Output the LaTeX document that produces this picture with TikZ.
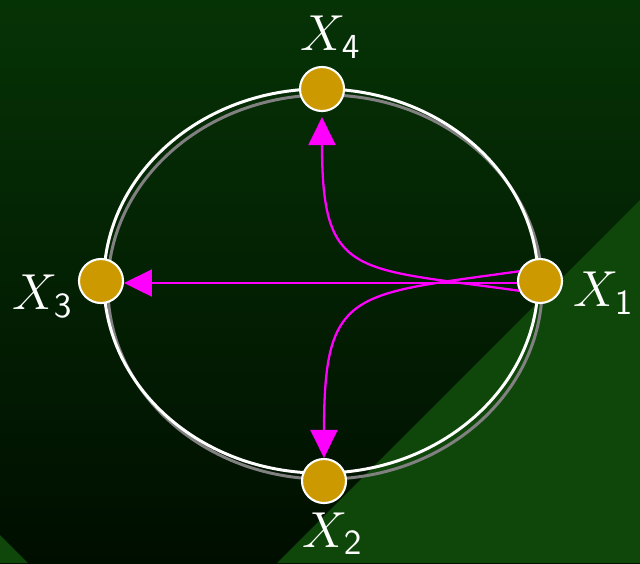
\documentclass[tikz,border=0pt]{standalone}
\usepackage{tikz}
\usetikzlibrary{positioning}
\usetikzlibrary{arrows.meta}
\definecolor{bgtop}{HTML}{063306}
\definecolor{bgbot}{HTML}{000E00}
\definecolor{bglight}{HTML}{0E4709}
\definecolor{gold}{HTML}{CC9900}
\definecolor{pink}{HTML}{FF00FF}

\begin{document}
\begin{tikzpicture}[
    x=0.01cm, y=-0.01cm,
    vertex/.style={circle, draw=white, line width=0.6pt, fill=gold, minimum size=0.44cm, inner sep=0pt},
    lbl/.style={text=white, font=\fontsize{14.5}{17}\selectfont, inner sep=0pt},
    flow/.style={pink, line width=0.65pt, -{Triangle[length=0.28cm, width=0.27cm]}}
  ]
    \useasboundingbox (0,0) rectangle (640,563);

    % Background
    \shade[top color=bgtop, bottom color=bgbot] (0,0) rectangle (640,563);
    \fill[bglight] (640,200) -- (640,563) -- (277,563) -- cycle;
    \fill[bglight] (0,535) -- (28,563) -- (0,563) -- cycle;

    % Orbit
    \draw[gray, line width=0.85pt] (0.04cm,-0.06cm) ++(321,281) ellipse [x radius=2.17cm, y radius=1.92cm];
    \draw[white, line width=0.85pt] (321,281) ellipse [x radius=2.17cm, y radius=1.92cm];

    % States
    \node[vertex] (x1) at (540,281) {};
    \node[vertex] (x2) at (324,481) {};
    \node[vertex] (x3) at (101,281) {};
    \node[vertex] (x4) at (322,89) {};

    \node[lbl, right=0.1cm of x1, yshift=-0.12cm] (l1) {$X_{\mathsf{1}}$};
    \node[lbl, below=0.08cm of x2, xshift=0.09cm] (l2) {$X_{\mathsf{2}}$};
    \node[lbl, left=0.04cm of x3, yshift=-0.15cm] (l3) {$X_{\mathsf{3}}$};
    \node[lbl, above=0.07cm of x4, xshift=0.09cm] (l4) {$X_{\mathsf{4}}$};

    % Transitions
    \draw[flow] (x1.185) -- (x3.-5);
    \draw[flow] (x1.155) to[out=188, in=90, looseness=1.6] (x2.north);
    \draw[flow, shorten >=0.05cm] (x1.205) to[out=172, in=-90, looseness=1.6] (x4.south);
  \end{tikzpicture}
\end{document}
